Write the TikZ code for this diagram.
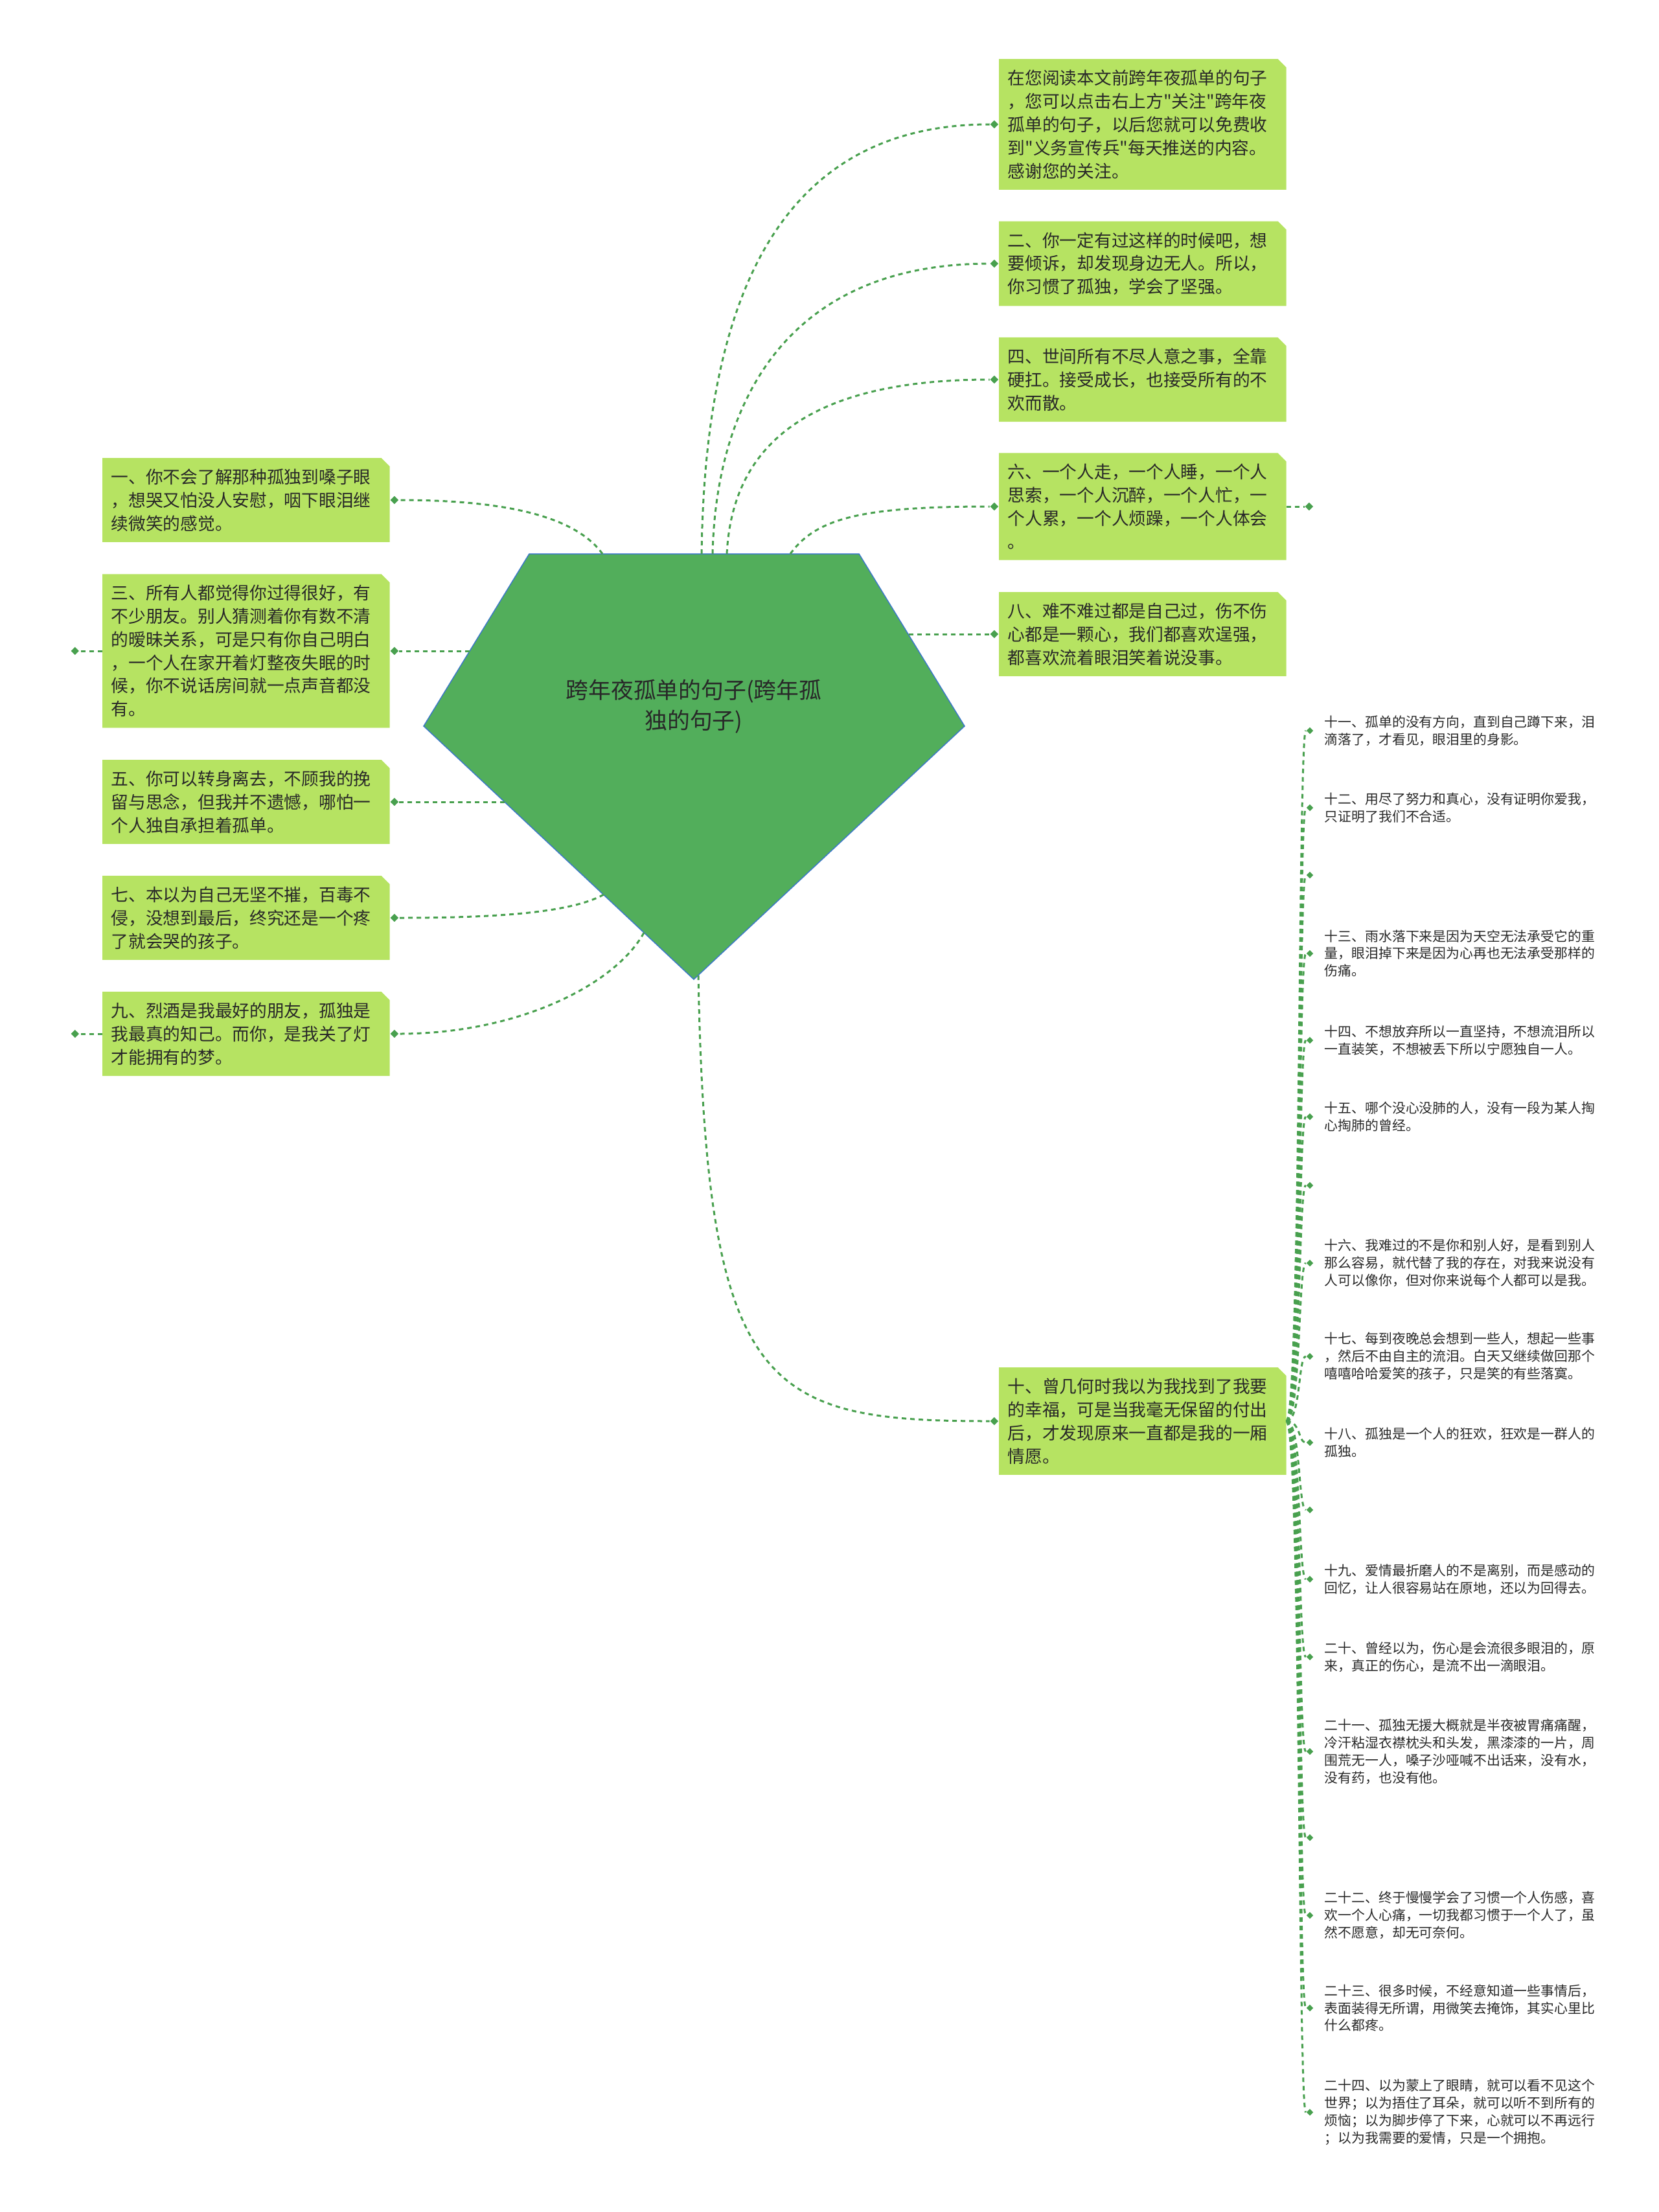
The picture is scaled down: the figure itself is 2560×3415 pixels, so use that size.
\documentclass[tikz,border=0pt]{standalone}
\usepackage{fontspec}
\newfontfamily\cjk{Noto Sans CJK SC}
\usetikzlibrary{positioning,shapes.geometric,backgrounds}
\definecolor{leafgreen}{RGB}{182,227,98}
\definecolor{rootgreen}{RGB}{82,174,91}
\definecolor{rootedge}{RGB}{60,120,200}
\definecolor{linkgreen}{RGB}{72,160,78}
\definecolor{inkgray}{RGB}{40,40,40}
\begin{document}
\begin{tikzpicture}[x=0.01cm, y=-0.01cm,
    bigleaf/.style={font=\cjk\fontsize{7.6pt}{10.2pt}\selectfont, text=inkgray, text width=4.16cm,
        inner xsep=0.13cm, inner ysep=0.16cm, align=left, anchor=west},
    smallleaf/.style={font=\cjk\fontsize{5.93pt}{7.65pt}\selectfont, text=inkgray, text width=4.3cm,
        inner xsep=0.06cm, inner ysep=0.04cm, align=left},
    dot/.style={diamond, fill=linkgreen, inner sep=0pt, minimum size=0.13cm},
    smalldot/.style={dot, minimum size=0.11cm},
    link/.style={linkgreen, line width=0.03cm, dash pattern=on 0.07cm off 0.06cm}]
    \useasboundingbox (0,0) rectangle (2560,3415);
    \coordinate (pa) at (817,855);  \coordinate (pb) at (1326,855);
    \coordinate (pc) at (1489,1121); \coordinate (pd) at (1071,1512);
    \coordinate (pe) at (654,1121);
    \fill[rootgreen, draw=rootedge, line width=0.015cm] (pa) -- (pb) -- (pc) -- (pd) -- (pe) -- cycle;
    \node[font=\cjk\fontsize{9.9pt}{13.3pt}\selectfont, text=inkgray, align=center] (root) at (1071,1091)
        {跨年夜孤单的句子(跨年孤\\独的句子)};

    \node[bigleaf] (b1) at (1542,192) {在您阅读本文前跨年夜孤单的句子\\，您可以点击右上方"关注"跨年夜\\孤单的句子，以后您就可以免费收\\到"义务宣传兵"每天推送的内容。\\感谢您的关注。};
    \node[bigleaf] (b2) at (1542,407) {二、你一定有过这样的时候吧，想\\要倾诉，却发现身边无人。所以，\\你习惯了孤独，学会了坚强。};
    \node[bigleaf] (b3) at (1542,586) {四、世间所有不尽人意之事，全靠\\硬扛。接受成长，也接受所有的不\\欢而散。};
    \node[bigleaf] (b4) at (1542,782) {六、一个人走，一个人睡，一个人\\思索，一个人沉醉，一个人忙，一\\个人累，一个人烦躁，一个人体会\\。};
    \node[bigleaf] (b5) at (1542,979) {八、难不难过都是自己过，伤不伤\\心都是一颗心，我们都喜欢逞强，\\都喜欢流着眼泪笑着说没事。};
    \node[bigleaf] (b10) at (1542,2194) {十、曾几何时我以为我找到了我要\\的幸福，可是当我毫无保留的付出\\后，才发现原来一直都是我的一厢\\情愿。};
    \node[bigleaf] (a1) at (158,772) {一、你不会了解那种孤独到嗓子眼\\，想哭又怕没人安慰，咽下眼泪继\\续微笑的感觉。};
    \node[bigleaf] (a3) at (158,1005) {三、所有人都觉得你过得很好，有\\不少朋友。别人猜测着你有数不清\\的暧昧关系，可是只有你自己明白\\，一个人在家开着灯整夜失眠的时\\候，你不说话房间就一点声音都没\\有。};
    \node[bigleaf] (a5) at (158,1238) {五、你可以转身离去，不顾我的挽\\留与思念，但我并不遗憾，哪怕一\\个人独自承担着孤单。};
    \node[bigleaf] (a7) at (158,1417) {七、本以为自己无坚不摧，百毒不\\侵，没想到最后，终究还是一个疼\\了就会哭的孩子。};
    \node[bigleaf] (a9) at (158,1596) {九、烈酒是我最好的朋友，孤独是\\我最真的知己。而你，是我关了灯\\才能拥有的梦。};
    \begin{pgfonlayer}{background}
        \foreach \b in {b1,b2,b3,b4,b5,b10,a1,a3,a5,a7,a9}
            \fill[leafgreen] (\b.south west) -- (\b.south east) -- ([yshift=-0.13cm]\b.north east)
                -- ([xshift=-0.13cm]\b.north east) -- (\b.north west) -- cycle;
    \end{pgfonlayer}

    \foreach \b in {b1,b2,b3,b4,b5,b10} \node[dot, left=0pt of \b] (d\b) {};
    \foreach \a in {a1,a3,a5,a7,a9} \node[dot, right=0pt of \a] (e\a) {};
    \node[dot, right=0.28cm of b4] (f4) {};
    \node[dot, left=0.35cm of a3] (f3) {};
    \node[dot, left=0.35cm of a9] (f9) {};
    \draw[link] (b4) -- (f4);
    \draw[link] (a3) -- (f3);
    \draw[link] (a9) -- (f9);

    \coordinate (t1) at (1083,855);  \coordinate (t2) at (1100,855);
    \coordinate (t3) at (1122,855);  \coordinate (t4) at (1220,855);
    \coordinate (t5) at (1403,979);  \coordinate (t10) at (1078,1506);
    \coordinate (s1) at (930,855);   \coordinate (s3) at (725,1005);
    \coordinate (s5) at (779,1238);  \coordinate (s7) at (932,1381);
    \coordinate (s9) at (994,1440);
    \draw[link] (t1) .. controls (1088,500) and (1180,192) .. (db1);
    \draw[link] (t2) .. controls (1105,640) and (1200,407) .. (db2);
    \draw[link] (t3) .. controls (1130,700) and (1230,586) .. (db3);
    \draw[link] (t4) .. controls (1260,800) and (1330,782) .. (db4);
    \draw[link] (t5) -- (db5);
    \draw[link] (t10) .. controls (1090,2150) and (1180,2194) .. (db10);
    \draw[link] (s1) .. controls (890,800) and (790,772) .. (ea1);
    \draw[link] (s3) -- (ea3);
    \draw[link] (s5) -- (ea5);
    \draw[link] (s7) .. controls (880,1410) and (760,1417) .. (ea7);
    \draw[link] (s9) .. controls (950,1520) and (800,1596) .. (ea9);

    \foreach \k/\y in {x1/1351, x2/1830, x3/2331, x4/2837} {
        \node[smalldot] (k\k) at (2022,\y) {};
        \draw[link] (b10.east) .. controls (2008,2194) and (2004,\y) .. (k\k);
    }
    \foreach \k/\y/\txt in {
        11/1128/{十一、孤单的没有方向，直到自己蹲下来，泪\\滴落了，才看见，眼泪里的身影。},
        12/1247/{十二、用尽了努力和真心，没有证明你爱我，\\只证明了我们不合适。},
        13/1472/{十三、雨水落下来是因为天空无法承受它的重\\量，眼泪掉下来是因为心再也无法承受那样的\\伤痛。},
        14/1606/{十四、不想放弃所以一直坚持，不想流泪所以\\一直装笑，不想被丢下所以宁愿独自一人。},
        15/1724/{十五、哪个没心没肺的人，没有一段为某人掏\\心掏肺的曾经。},
        16/1950/{十六、我难过的不是你和别人好，是看到别人\\那么容易，就代替了我的存在，对我来说没有\\人可以像你，但对你来说每个人都可以是我。},
        17/2094/{十七、每到夜晚总会想到一些人，想起一些事\\，然后不由自主的流泪。白天又继续做回那个\\嘻嘻哈哈爱笑的孩子，只是笑的有些落寞。},
        18/2227/{十八、孤独是一个人的狂欢，狂欢是一群人的\\孤独。},
        19/2438/{十九、爱情最折磨人的不是离别，而是感动的\\回忆，让人很容易站在原地，还以为回得去。},
        20/2558/{二十、曾经以为，伤心是会流很多眼泪的，原\\来，真正的伤心，是流不出一滴眼泪。},
        21/2704/{二十一、孤独无援大概就是半夜被胃痛痛醒，\\冷汗粘湿衣襟枕头和头发，黑漆漆的一片，周\\围荒无一人，嗓子沙哑喊不出话来，没有水，\\没有药，也没有他。},
        22/2957/{二十二、终于慢慢学会了习惯一个人伤感，喜\\欢一个人心痛，一切我都习惯于一个人了，虽\\然不愿意，却无可奈何。},
        23/3100/{二十三、很多时候，不经意知道一些事情后，\\表面装得无所谓，用微笑去掩饰，其实心里比\\什么都疼。},
        24/3261/{二十四、以为蒙上了眼睛，就可以看不见这个\\世界；以为捂住了耳朵，就可以听不到所有的\\烦恼；以为脚步停了下来，心就可以不再远行\\；以为我需要的爱情，只是一个拥抱。}} {
        \node[smalldot] (k\k) at (2022,\y) {};
        \node[smallleaf, right=0.1cm of k\k] (c\k) {\txt};
        \draw[link] (b10.east) .. controls (2008,2194) and (2004,\y) .. (k\k);
    }
\end{tikzpicture}
\end{document}
